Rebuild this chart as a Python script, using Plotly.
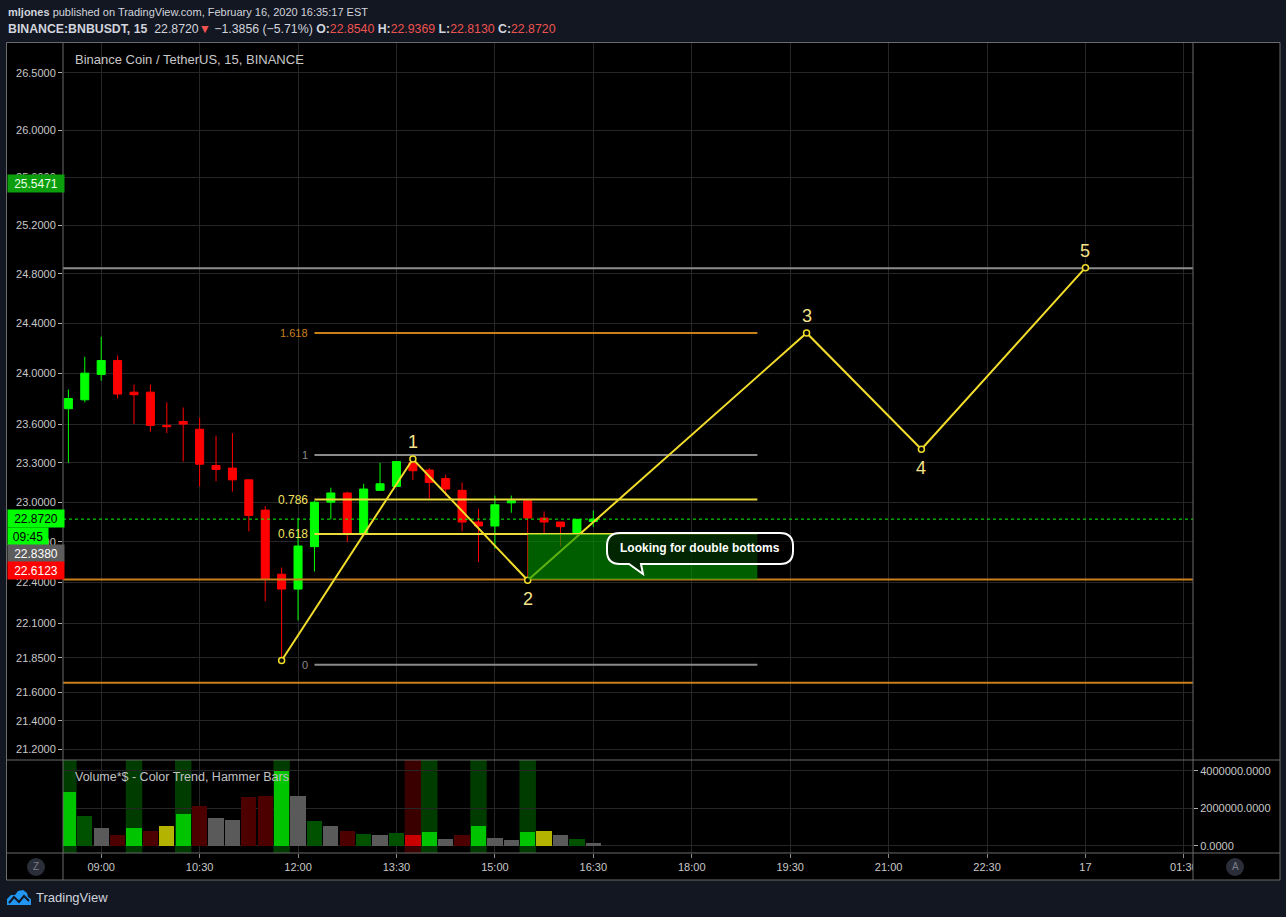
import plotly.graph_objects as go
import numpy as np
import pandas as pd

# ---------------- data ----------------
bar_times = [t.strftime("%Y-%m-%d %H:%M") for t in pd.date_range("2020-02-16 08:30", periods=33, freq="15min")]
opens = [23.72, 23.79, 23.99, 24.10, 23.85, 23.85, 23.59, 23.62, 23.56, 23.28, 23.26, 23.17, 22.94, 22.46, 22.35,
         22.665, 23.00, 23.07, 22.765, 23.09, 23.12, 23.30, 23.245, 23.18, 23.09, 22.85, 22.82, 22.995, 23.01,
         22.88, 22.85, 22.765, 22.854]
highs = [23.87, 24.13, 24.29, 24.14, 23.91, 23.91, 23.77, 23.73, 23.65, 23.51, 23.53, 23.17, 22.97, 22.51, 22.88,
         23.01, 23.11, 23.08, 23.14, 23.30, 23.31, 23.33, 23.26, 23.21, 23.15, 22.95, 23.05, 23.05, 23.02,
         22.93, 22.85, 22.87, 22.9369]
lows = [23.30, 23.77, 23.94, 23.80, 23.60, 23.54, 23.53, 23.31, 23.12, 23.16, 23.08, 22.78, 22.26, 21.82, 22.12,
        22.48, 22.87, 22.70, 22.76, 23.09, 23.12, 23.17, 23.03, 23.05, 22.78, 22.55, 22.65, 22.92, 22.42,
        22.76, 22.665, 22.765, 22.813]
closes = [23.80, 24.00, 24.10, 23.835, 23.83, 23.59, 23.58, 23.60, 23.29, 23.25, 23.17, 22.90, 22.42, 22.35, 22.67,
          23.00, 23.07, 22.765, 23.10, 23.14, 23.31, 23.24, 23.15, 23.10, 22.85, 22.82, 22.98, 23.01, 22.88,
          22.85, 22.815, 22.87, 22.872]

volumes = [2.88e6, 1.58e6, 0.94e6, 0.57e6, 0.94e6, 0.78e6, 1.05e6, 1.69e6, 2.12e6, 1.48e6, 1.37e6, 2.60e6, 2.65e6,
           3.98e6, 2.65e6, 1.32e6, 1.05e6, 0.78e6, 0.62e6, 0.57e6, 0.68e6, 0.57e6, 0.73e6, 0.36e6, 0.57e6, 1.05e6,
           0.41e6, 0.30e6, 0.73e6, 0.78e6, 0.57e6, 0.36e6, 0.14e6]
volume_kind = ["up", "dup", "flat", "ddn", "up", "ddn", "ham", "up", "ddn", "flat", "flat", "ddn", "ddn",
               "up", "flat", "dup", "flat", "ddn", "dup", "flat", "dup", "dn", "up", "flat", "ddn", "up",
               "flat", "flat", "up", "ham", "flat", "dup", "flat"]
highlight_times = ["2020-02-16 08:30", "2020-02-16 09:30", "2020-02-16 10:15", "2020-02-16 11:45",
                   "2020-02-16 13:45", "2020-02-16 14:00", "2020-02-16 14:45", "2020-02-16 15:30"]
highlight_kind = ["g", "g", "g", "g", "r", "g", "g", "g"]

fib_ratios = ["1.618", "1", "0.786", "0.618", "0"]
fib_prices = [24.32, 23.36, 23.02, 22.76, 21.80]
fib_start, fib_end = "2020-02-16 12:15", "2020-02-16 19:00"

wave_times = ["2020-02-16 11:45", "2020-02-16 13:45", "2020-02-16 15:30",
              "2020-02-16 19:45", "2020-02-16 21:30", "2020-02-17 00:00"]
wave_prices = [21.83, 23.33, 22.415, 24.32, 23.405, 24.85]
wave_labels = ["", "1", "2", "3", "4", "5"]

hline_prices = [24.845, 22.42, 21.67]
zone_start, zone_end = "2020-02-16 15:30", "2020-02-16 19:00"
zone_low, zone_high = 22.42, 22.76
last_price = 22.872

price_ticks = [26.5, 26.0, 25.6, 25.2, 24.8, 24.4, 24.0, 23.6, 23.3, 23.0, 22.7, 22.4, 22.1, 21.85, 21.6, 21.4, 21.2]
time_ticks = ["2020-02-16 09:00", "2020-02-16 10:30", "2020-02-16 12:00", "2020-02-16 13:30", "2020-02-16 15:00",
              "2020-02-16 16:30", "2020-02-16 18:00", "2020-02-16 19:30", "2020-02-16 21:00", "2020-02-16 22:30",
              "2020-02-17 00:00", "2020-02-17 01:30"]
time_labels = ["09:00", "10:30", "12:00", "13:30", "15:00", "16:30", "18:00", "19:30", "21:00", "22:30", "17", "01:30"]
vol_ticks = [0, 2e6, 4e6]

x_range = ["2020-02-16 08:25:05", "2020-02-17 01:38:20"]
price_range = [21.125, 26.77]
vol_range = [-0.39e6, 4.57e6]

# ---------------- style ----------------
FONT = "Liberation Sans, Arial, sans-serif"
W, H = 1286, 917
ML, MR, MT, MB = 63, 93, 42, 64
PW, PH = W - ML - MR, H - MT - MB
VOL_FRAC = (853 - 760) / PH


def px(x):
    return (x - ML) / PW


def py(y):
    return (H - MB - y) / PH


vol_color_map = {"up": "#00c400", "dup": "#005200", "flat": "#5a5a5a", "ddn": "#4c0000",
                 "dn": "#c80000", "ham": "#b4b400"}
hl_color_map = {"g": "#003c00", "r": "#3a0000"}
YEL = "#f2dc2a"
LBL = "#f7e48a"
ORANGE = "#c8801a"
GRAY = "#8a8a8a"

fig = go.Figure()

# full-width horizontal lines
for p, c in zip(hline_prices, ["#8c8c8c", ORANGE, ORANGE]):
    fig.add_trace(go.Scatter(x=x_range, y=[p, p], mode="lines", line=dict(color=c, width=2),
                             hoverinfo="skip", showlegend=False))

# last price dotted line
fig.add_trace(go.Scatter(x=x_range, y=[last_price, last_price], mode="lines",
                         line=dict(color="#00ff00", width=1, dash="dot"), hoverinfo="skip", showlegend=False))

# fib lines
fib_colors = [ORANGE, GRAY, "#eadb3a", "#eadb3a", GRAY]
for p, c in zip(fib_prices, fib_colors):
    fig.add_trace(go.Scatter(x=[fib_start, fib_end], y=[p, p], mode="lines", line=dict(color=c, width=2),
                             hoverinfo="skip", showlegend=False))

# candles
fig.add_trace(go.Candlestick(x=bar_times, open=opens, high=highs, low=lows, close=closes,
                             increasing=dict(line=dict(color="#00ff00", width=1), fillcolor="#00ff00"),
                             decreasing=dict(line=dict(color="#ff0000", width=1), fillcolor="#ff0000"),
                             whiskerwidth=0, hoverinfo="skip", showlegend=False, xaxis="x", yaxis="y"))

# wave path
fig.add_trace(go.Scatter(x=wave_times, y=wave_prices, mode="lines+markers",
                         line=dict(color=YEL, width=2),
                         marker=dict(symbol="circle", size=6, color="#000000", line=dict(color=YEL, width=1.5)),
                         hoverinfo="skip", showlegend=False))

# green zone
fig.add_trace(go.Scatter(x=[zone_start, zone_end, zone_end, zone_start, zone_start],
                         y=[zone_low, zone_low, zone_high, zone_high, zone_low],
                         mode="lines", fill="toself", fillcolor="rgba(0,150,0,0.62)",
                         line=dict(width=0), hoverinfo="skip", showlegend=False))

# volume
fig.add_trace(go.Bar(x=bar_times, y=volumes, marker=dict(color=[vol_color_map[k] for k in volume_kind], line=dict(width=0)),
                     width=15 * 60 * 1000 * 0.93, xaxis="x", yaxis="y2", hoverinfo="skip", showlegend=False))

shapes = []
# chart black background box
shapes.append(dict(type="rect", xref="paper", yref="paper", x0=px(6.5), x1=px(1280), y0=py(880), y1=py(42.5),
                   fillcolor="#000000", line=dict(width=0), layer="below"))
# hammer highlight columns
for t, k in zip(highlight_times, highlight_kind):
    tt = pd.Timestamp(t)
    shapes.append(dict(type="rect", xref="x", yref="y2 domain",
                       x0=(tt - pd.Timedelta(minutes=7.5)).strftime("%Y-%m-%d %H:%M:%S"),
                       x1=(tt + pd.Timedelta(minutes=7.5)).strftime("%Y-%m-%d %H:%M:%S"),
                       y0=0, y1=1, fillcolor=hl_color_map[k], line=dict(width=0), layer="below"))
# cover clipped time label on right
shapes.append(dict(type="rect", xref="paper", yref="paper", x0=px(1193), x1=px(1279.5), y0=py(879.5), y1=py(853.5),
                   fillcolor="#000000", line=dict(width=0), layer="above"))
# borders
BORDER = "#6a6a6a"
shapes.append(dict(type="rect", xref="paper", yref="paper", x0=px(6.5), x1=px(1280), y0=py(880), y1=py(42.5),
                   line=dict(color=BORDER, width=1), layer="above"))
for xx in [63, 1193]:
    shapes.append(dict(type="line", xref="paper", yref="paper", x0=px(xx), x1=px(xx), y0=py(880), y1=py(42.5),
                       line=dict(color=BORDER, width=1), layer="above"))
for yy in [760, 853]:
    shapes.append(dict(type="line", xref="paper", yref="paper", x0=px(6.5), x1=px(1280), y0=py(yy), y1=py(yy),
                       line=dict(color=BORDER, width=1), layer="above"))

# callout bubble
bx0, bx1, by0, by1, r = 607, 793, 533, 564, 13
pts = [("M", bx0 + r, by0), ("L", bx1 - r, by0), ("Q", bx1, by0, bx1, by0 + r), ("L", bx1, by1 - r),
       ("Q", bx1, by1, bx1 - r, by1), ("L", 641, by1), ("L", 643, 574), ("L", 629, by1), ("L", bx0 + r, by1),
       ("Q", bx0, by1, bx0, by1 - r), ("L", bx0, by0 + r), ("Q", bx0, by0, bx0 + r, by0)]
path = ""
for cmd in pts:
    c = cmd[0]
    coords = cmd[1:]
    s = " ".join(f"{px(coords[i]):.5f},{py(coords[i + 1]):.5f}" for i in range(0, len(coords), 2))
    path += f"{c} {s} "
path += "Z"
shapes.append(dict(type="path", xref="paper", yref="paper", path=path, fillcolor="rgba(0,0,0,0.6)",
                   line=dict(color="#ffffff", width=2), layer="above"))

# Z / A buttons
for cx in [36, 1235]:
    shapes.append(dict(type="circle", xref="paper", yref="paper", x0=px(cx - 9), x1=px(cx + 9), y0=py(876), y1=py(858),
                       fillcolor="#2a2e39", line=dict(width=0), layer="above"))

# TradingView logo (simple cloud glyph)
logo = [(7, 905), (7, 899), (11, 895), (15, 895), (18, 891), (23, 890), (27, 893), (28, 897), (31, 899), (31, 905)]
lp = "M " + " L ".join(f"{px(a):.5f},{py(b):.5f}" for a, b in logo) + " Z"
shapes.append(dict(type="path", xref="paper", yref="paper", path=lp, fillcolor="#2196f3", line=dict(width=0)))
zig = [(9, 903), (14, 897), (19, 902), (24, 896), (29, 901)]
zp = "M " + " L ".join(f"{px(a):.5f},{py(b):.5f}" for a, b in zig)
shapes.append(dict(type="path", xref="paper", yref="paper", path=zp, line=dict(color="#131722", width=2)))

annotations = []
RED = "#ef5350"
TXT = "#d1d4dc"
annotations.append(dict(xref="paper", yref="paper", x=px(6), y=py(12), xanchor="left", yanchor="middle", showarrow=False,
                        text="<b>mljones</b> published on TradingView.com, February 16, 2020 16:35:17 EST",
                        font=dict(family=FONT, size=11, color=TXT)))
annotations.append(dict(xref="paper", yref="paper", x=px(6), y=py(29), xanchor="left", yanchor="middle", showarrow=False,
                        text=("<b>BINANCE:BNBUSDT, 15</b>  22.8720<span style='color:%s'>▼</span> −1.3856 (−5.71%%) "
                              "<b>O:</b><span style='color:%s'>22.8540</span> <b>H:</b><span style='color:%s'>22.9369</span> "
                              "<b>L:</b><span style='color:%s'>22.8130</span> <b>C:</b><span style='color:%s'>22.8720</span>")
                        % (RED, RED, RED, RED, RED),
                        font=dict(family=FONT, size=12.3, color=TXT)))
annotations.append(dict(xref="paper", yref="paper", x=px(73), y=py(60), xanchor="left", yanchor="middle", showarrow=False,
                        text="Binance Coin / TetherUS, 15, BINANCE", font=dict(family=FONT, size=13, color="#c8c8c8")))
annotations.append(dict(xref="paper", yref="paper", x=px(73), y=py(777), xanchor="left", yanchor="middle", showarrow=False,
                        text="Volume*$ - Color Trend, Hammer Bars", font=dict(family=FONT, size=12.5, color="#c0c0c0")))

# fib labels
for lab, p, c, fs in zip(fib_ratios, fib_prices, [ORANGE, GRAY, "#f0e060", "#f0e060", GRAY], [11, 11, 12, 12, 11]):
    annotations.append(dict(x=fib_start, y=np.log10(p), xref="x", yref="y", xanchor="right", yanchor="middle",
                            xshift=-4, showarrow=False, text=lab, font=dict(family=FONT, size=fs, color=c)))

# wave labels
for i, (t, p, lab) in enumerate(zip(wave_times, wave_prices, wave_labels)):
    if not lab:
        continue
    up = wave_prices[i] > wave_prices[i - 1]
    annotations.append(dict(x=t, y=np.log10(p), xref="x", yref="y", yanchor="middle", showarrow=False,
                            yshift=17 if up else -19, text=lab, font=dict(family=FONT, size=18, color=LBL)))

# callout text
annotations.append(dict(xref="paper", yref="paper", x=px(700), y=py(548), xanchor="center", yanchor="middle", showarrow=False,
                        text="<b>Looking for double bottoms</b>", font=dict(family=FONT, size=12, color="#ffffff")))

# price tags on left axis
tags = [("25.5471", 183, "#0c9e0c", "#e8ffe8", 54), ("22.8720", 518, "#00ff00", "#000000", 54),
        ("09:45", 536, "#00ff00", "#000000", 38), ("22.8380", 553, "#5d5d5d", "#ffffff", 54),
        ("22.6123", 570, "#ff0000", "#ffffff", 54)]
for txt, yy, bg, fc, w in tags:
    annotations.append(dict(xref="paper", yref="paper", x=px(7), y=py(yy), xanchor="left", yanchor="middle",
                            showarrow=False, text=txt, bgcolor=bg, width=w, height=15, borderpad=1, align="center",
                            font=dict(family=FONT, size=12, color=fc)))

for cx, letter in [(36, "Z"), (1235, "A")]:
    annotations.append(dict(xref="paper", yref="paper", x=px(cx), y=py(867), xanchor="center", yanchor="middle",
                            showarrow=False, text=letter, font=dict(family=FONT, size=10, color="#787b86")))
annotations.append(dict(xref="paper", yref="paper", x=px(34), y=py(898), xanchor="left", yanchor="middle",
                        showarrow=False, text="TradingView", font=dict(family=FONT, size=13, color=TXT)))

GRID = "#262626"
TICKF = dict(family=FONT, size=11, color="#c8c8c8")
fig.update_layout(
    width=W, height=H, margin=dict(l=ML, r=MR, t=MT, b=MB),
    paper_bgcolor="#131722", plot_bgcolor="#000000",
    showlegend=False, hovermode=False, bargap=0,
    shapes=shapes, annotations=annotations,
    xaxis=dict(type="date", range=x_range, anchor="y2", tickvals=time_ticks, ticktext=time_labels,
               showgrid=True, gridcolor=GRID, gridwidth=1, zeroline=False, showline=False,
               ticks="outside", ticklen=4, tickcolor="#8a8a8a", tickfont=TICKF,
               rangeslider=dict(visible=False), fixedrange=True),
    yaxis=dict(type="log", domain=[VOL_FRAC, 1], range=[np.log10(price_range[0]), np.log10(price_range[1])],
               anchor="x", side="left", tickvals=price_ticks, ticktext=[f"{v:.4f}" for v in price_ticks],
               showgrid=True, gridcolor=GRID, zeroline=False, showline=False,
               ticks="outside", ticklen=4, tickcolor="#b0b0b0", tickfont=TICKF),
    yaxis2=dict(domain=[0, VOL_FRAC], range=vol_range, anchor="x", side="right",
                tickvals=vol_ticks, ticktext=[f"{v:.4f}" for v in vol_ticks],
                showgrid=True, gridcolor=GRID, zeroline=False, showline=False,
                ticks="outside", ticklen=4, tickcolor="#b0b0b0", tickfont=TICKF),
)

fig.write_html("out.html", config={"displayModeBar": False},
               post_script="document.body.style.margin='0';document.body.style.overflow='hidden';")
